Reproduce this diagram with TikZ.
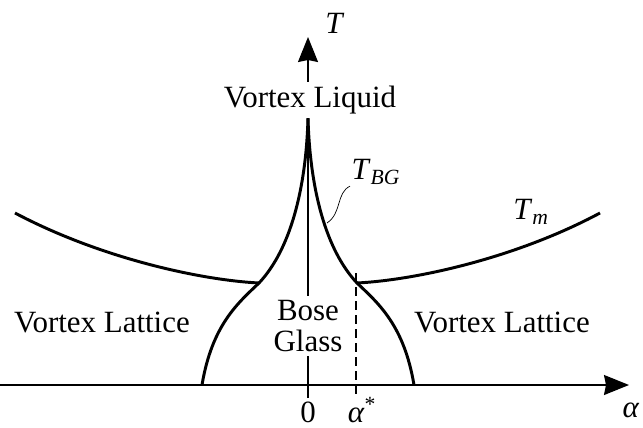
\documentclass[tikz,border=0pt]{standalone}
\usepackage{fontspec}
\setmainfont{Liberation Serif}
\usetikzlibrary{arrows.meta,positioning}

\begin{document}
\begin{tikzpicture}[x=0.025cm, y=-0.025cm,
    axis/.style={line width=1.1pt, -{Stealth[length=0.625cm, width=0.5cm, inset=0.05cm]}},
    curve/.style={line width=2.1pt},
    txt/.style={font=\fontsize{22}{21.5}\selectfont, inner sep=1pt},
    blank/.style={txt, fill=white, inner sep=3pt}
]
\useasboundingbox (0,0) rectangle (643,427);

% Axes
\coordinate (xstart) at (0,385);
\coordinate (xend) at (629,385);
\coordinate (ybottom) at (308,398);
\coordinate (ytop) at (308,37);
\draw[axis] (xstart) -- (xend);
\draw[axis] (ybottom) -- (ytop);

% alpha* line
\coordinate (astop) at (356,273);
\coordinate (asbot) at (356,395);
\draw[line width=0.8pt, dash pattern=on 6pt off 4pt] (astop) -- (asbot);

% Bose glass boundary
\coordinate (cusp) at (308,118);
\coordinate (jl) at (259,283);
\coordinate (jr) at (357,283);
\coordinate (bl) at (202,385);
\coordinate (br) at (414,385);
\draw[curve] (bl) .. controls (212,325) and (238,303) .. (jl)
    .. controls (290,250) and (306,190) .. (cusp);
\draw[curve] (cusp) .. controls (310,190) and (326,250) .. (jr)
    .. controls (378,303) and (404,325) .. (br);

% Melting line
\coordinate (tml) at (15,213);
\coordinate (tmr) at (600,213);
\draw[curve] (tml) .. controls (100,258) and (200,280) .. (jl);
\draw[curve] (jr) .. controls (416,280) and (516,258) .. (tmr);

% Labels
\node[blank] (liquid) at (310,100) {Vortex Liquid};
\node[blank, align=center] (bose) at (308,326) {Bose\\Glass};
\node[txt] (latl) at (102,322) {Vortex Lattice};
\node[txt] (latr) at (502,322) {Vortex Lattice};
\node[txt] (tlab) at (335,23) {\textit{T}};
\node[txt] (alab) at (631,410) {\textit{α}};
\node[txt] (zero) at (308,412) {0};
\node[txt] (astar) at (362,410) {\textit{α}\textsuperscript{*}};
\node[txt] (tbg) at (376,172) {\textit{T}\textsubscript{\textit{BG}}};
\node[txt] (tmlab) at (531,212) {\textit{T}\textsubscript{\textit{m}}};

% T_BG leader
\coordinate (tbgfoot) at (327,223);
\draw[line width=0.5pt] (tbgfoot) .. controls (342,213) and (336,193) .. (tbg.south west);

\end{tikzpicture}
\end{document}
